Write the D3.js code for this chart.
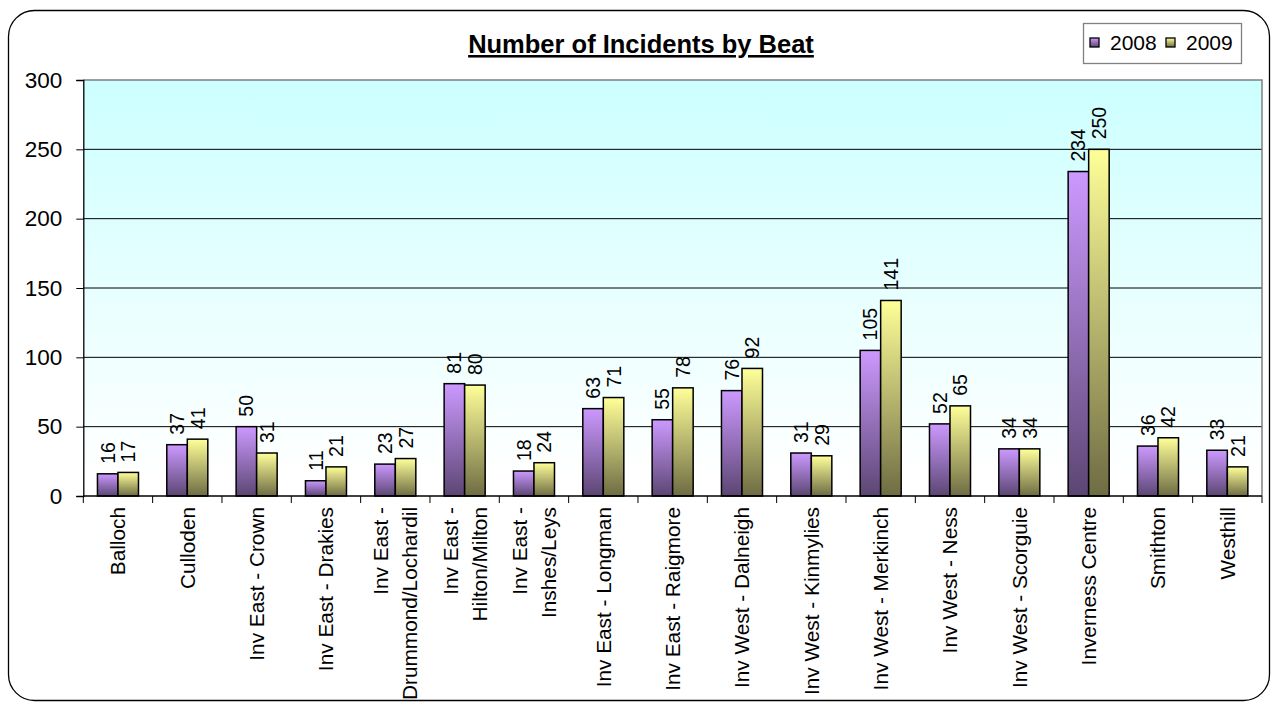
<!DOCTYPE html>
<html>
<head>
<meta charset="utf-8">
<script src="https://cdn.jsdelivr.net/npm/d3@7"></script>
<style>
  body { margin: 0; background: #fff; }
  svg { display: block; font-family: Arial, "Liberation Sans", sans-serif; }
</style>
</head>
<body>
<div id="chart"></div>
<script>
const width = 1271;
const height = 702;

// beat names (multi-line labels split on "|")
const beats = [
  "Balloch", "Culloden", "Inv East - Crown", "Inv East - Drakies",
  "Inv East -|Drummond/Lochardil", "Inv East -|Hilton/Milton", "Inv East -|Inshes/Leys",
  "Inv East - Longman", "Inv East - Raigmore", "Inv West - Dalneigh",
  "Inv West - Kinmylies", "Inv West - Merkinch", "Inv West - Ness",
  "Inv West - Scorguie", "Inverness Centre", "Smithton", "Westhill"
];
const years = ["2008", "2009"];
const incidents2008 = [16, 37, 50, 11, 23, 81, 18, 63, 55, 76, 31, 105, 52, 34, 234, 36, 33];
const incidents2009 = [17, 41, 31, 21, 27, 80, 24, 71, 78, 92, 29, 141, 65, 34, 250, 42, 21];
const yTicks = [0, 50, 100, 150, 200, 250, 300];

const series = [incidents2008, incidents2009];

const plot = { left: 83.3, right: 1262, top: 80, bottom: 496 };

const svg = d3.select("#chart").append("svg")
  .attr("width", width)
  .attr("height", height);

const defs = svg.append("defs");

const bg = defs.append("linearGradient").attr("id", "bg")
  .attr("x1", 0).attr("y1", 0).attr("x2", 0).attr("y2", 1);
bg.append("stop").attr("offset", "0%").attr("stop-color", "#ccffff");
bg.append("stop").attr("offset", "95%").attr("stop-color", "#ffffff");

const barColors = [["#cc99ff", "#5c4673"], ["#ffff99", "#6e6c43"]];
barColors.forEach((c, i) => {
  const g = defs.append("linearGradient").attr("id", "bar" + i)
    .attr("x1", 0).attr("y1", 0).attr("x2", 0).attr("y2", 1);
  g.append("stop").attr("offset", "0%").attr("stop-color", c[0]);
  g.append("stop").attr("offset", "100%").attr("stop-color", c[1]);
});

// outer rounded frame
svg.append("rect")
  .attr("x", 8.5).attr("y", 10.5)
  .attr("width", 1261).attr("height", 690)
  .attr("rx", 26).attr("ry", 26)
  .attr("fill", "#fff")
  .attr("stroke", "#000")
  .attr("stroke-width", 1.3);

const x = d3.scaleBand()
  .domain(d3.range(beats.length))
  .range([plot.left, plot.right])
  .padding(0);

const xSub = d3.scaleBand()
  .domain(d3.range(years.length))
  .range([0, x.bandwidth()])
  .paddingInner(0)
  .paddingOuter(0.69);

const y = d3.scaleLinear()
  .domain([0, 300])
  .range([plot.bottom, plot.top]);

// plot area
svg.append("rect")
  .attr("x", plot.left).attr("y", plot.top)
  .attr("width", plot.right - plot.left)
  .attr("height", plot.bottom - plot.top)
  .attr("fill", "url(#bg)");

// gridlines
svg.append("g")
  .selectAll("line")
  .data(yTicks.filter(t => t > 0 && t < 300))
  .join("line")
  .attr("x1", plot.left).attr("x2", plot.right)
  .attr("y1", d => y(d)).attr("y2", d => y(d))
  .attr("stroke", "#000")
  .attr("stroke-width", 1);

// plot border top/right
svg.append("path")
  .attr("d", `M${plot.left},${plot.top}H${plot.right}V${plot.bottom}`)
  .attr("fill", "none")
  .attr("stroke", "#808080")
  .attr("stroke-width", 1.5);

// bars
const groups = svg.append("g")
  .selectAll("g")
  .data(beats)
  .join("g")
  .attr("transform", (d, i) => `translate(${x(i)},0)`);

groups.selectAll("rect")
  .data((d, i) => series.map((s, k) => ({ k, v: s[i] })))
  .join("rect")
  .attr("x", d => xSub(d.k))
  .attr("y", d => y(d.v))
  .attr("width", xSub.bandwidth())
  .attr("height", d => y(0) - y(d.v))
  .attr("fill", d => `url(#bar${d.k})`)
  .attr("stroke", "#000")
  .attr("stroke-width", 1.5);

// data labels
groups.selectAll("text")
  .data((d, i) => series.map((s, k) => ({ k, v: s[i] })))
  .join("text")
  .attr("transform", d => `translate(${xSub(d.k) + xSub.bandwidth() / 2},${y(d.v) - 10}) rotate(-90)`)
  .attr("dy", "0.36em")
  .attr("font-size", 19.5)
  .text(d => d.v);

// y axis
const yAxis = svg.append("g")
  .attr("transform", `translate(${plot.left},0)`)
  .call(d3.axisLeft(y).tickValues(yTicks).tickSize(7).tickPadding(14));
yAxis.select(".domain").attr("stroke", "#000").attr("stroke-width", 1.3);
yAxis.selectAll(".tick line").attr("stroke", "#000");
yAxis.selectAll(".tick text")
  .attr("font-size", 22.5)
  .attr("font-family", "Arial, 'Liberation Sans', sans-serif")
  .attr("fill", "#000");

// x axis
svg.append("line")
  .attr("x1", plot.left).attr("x2", plot.right)
  .attr("y1", plot.bottom).attr("y2", plot.bottom)
  .attr("stroke", "#000").attr("stroke-width", 1.3);
svg.append("g")
  .selectAll("line")
  .data(d3.range(beats.length + 1))
  .join("line")
  .attr("x1", i => plot.left + i * x.step())
  .attr("x2", i => plot.left + i * x.step())
  .attr("y1", plot.bottom).attr("y2", plot.bottom + 7)
  .attr("stroke", "#000");

// category labels
const cat = svg.append("g")
  .selectAll("text")
  .data(beats)
  .join("text")
  .attr("transform", (d, i) => `translate(${x(i) + x.bandwidth() / 2},${plot.bottom + 11}) rotate(-90)`)
  .attr("text-anchor", "end")
  .attr("font-size", 20.8);

cat.each(function(d) {
  const lines = d.split("|");
  const sp = 29;
  lines.forEach((ln, j) => {
    d3.select(this).append("tspan")
      .attr("x", 0)
      .attr("y", (j - (lines.length - 1) / 2) * sp)
      .attr("dy", "0.36em")
      .text(ln);
  });
});

// title
svg.append("text")
  .attr("x", 641).attr("y", 53)
  .attr("text-anchor", "middle")
  .attr("font-size", 25.5)
  .attr("font-weight", "bold")
  .attr("text-decoration", "underline")
  .text("Number of Incidents by Beat");

// legend
const legend = svg.append("g");
legend.append("rect")
  .attr("x", 1083.5).attr("y", 23.5)
  .attr("width", 158).attr("height", 40)
  .attr("fill", "#fff")
  .attr("stroke", "#808080")
  .attr("stroke-width", 1.3);
const legX = [1090, 1166];
years.forEach((yr, k) => {
  legend.append("rect")
    .attr("x", legX[k]).attr("y", 38)
    .attr("width", 9).attr("height", 9)
    .attr("fill", `url(#bar${k})`)
    .attr("stroke", "#000")
    .attr("stroke-width", 1.3);
  legend.append("text")
    .attr("x", legX[k] + 20).attr("y", 50)
    .attr("font-size", 21)
    .text(yr);
});
</script>
</body>
</html>
